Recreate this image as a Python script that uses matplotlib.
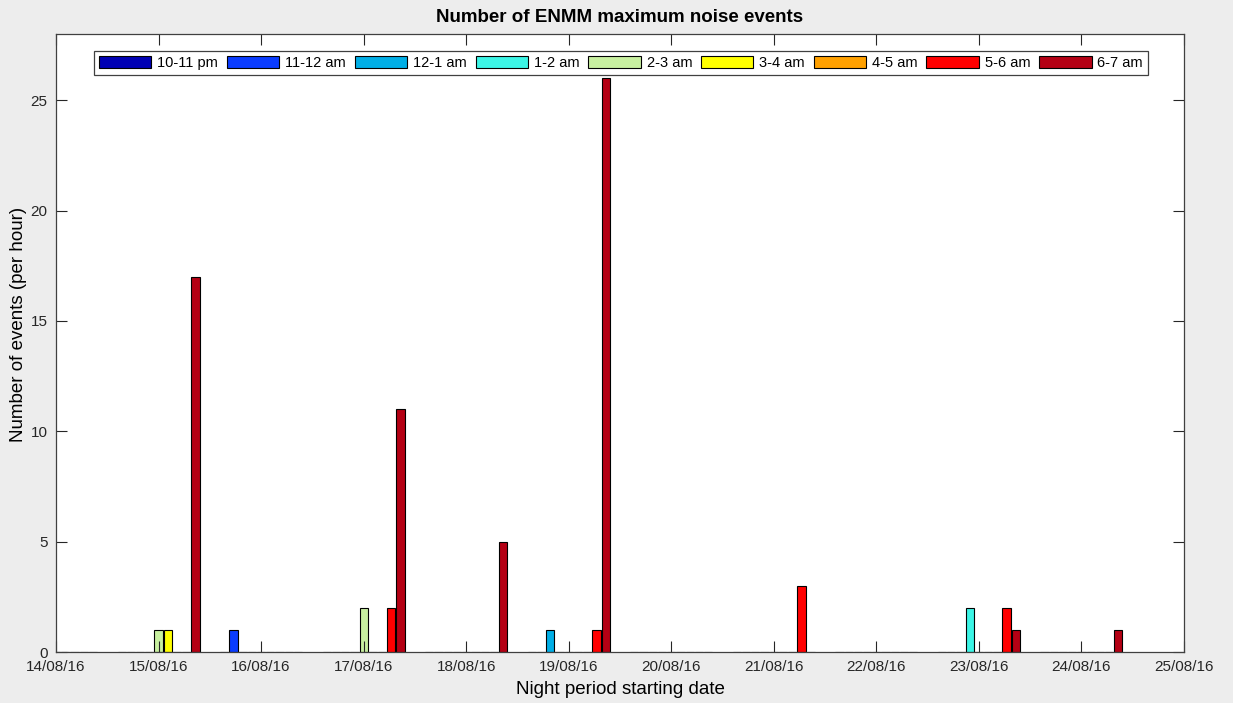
import numpy as np
import matplotlib
matplotlib.use("Agg")
import matplotlib.pyplot as plt

plt.rcParams['font.family'] = ['Liberation Sans', 'DejaVu Sans']

# ---- Data ----
dates = ["14/08/16", "15/08/16", "16/08/16", "17/08/16", "18/08/16", "19/08/16",
         "20/08/16", "21/08/16", "22/08/16", "23/08/16", "24/08/16", "25/08/16"]
hours = ["10-11 pm", "11-12 am", "12-1 am", "1-2 am", "2-3 am",
         "3-4 am", "4-5 am", "5-6 am", "6-7 am"]
colors = ["#0000b4", "#0a3cff", "#00aee6", "#3cf5e6", "#c8f0a0",
          "#ffff00", "#ffa000", "#ff0000", "#b40014"]

# events per night (14/08 .. 24/08), one list per hour
h_10_11pm = [0, 0, 0, 0, 0, 0, 0, 0, 0, 0, 0]
h_11_12am = [0, 0, 1, 0, 0, 0, 0, 0, 0, 0, 0]
h_12_1am  = [0, 0, 0, 0, 0, 1, 0, 0, 0, 0, 0]
h_1_2am   = [0, 0, 0, 0, 0, 0, 0, 0, 0, 2, 0]
h_2_3am   = [0, 1, 0, 2, 0, 0, 0, 0, 0, 0, 0]
h_3_4am   = [0, 1, 0, 0, 0, 0, 0, 0, 0, 0, 0]
h_4_5am   = [0, 0, 0, 0, 0, 0, 0, 0, 0, 0, 0]
h_5_6am   = [0, 0, 0, 2, 0, 1, 0, 3, 0, 2, 0]
h_6_7am   = [0, 17, 0, 11, 5, 26, 0, 0, 0, 1, 1]
counts = [h_10_11pm, h_11_12am, h_12_1am, h_1_2am, h_2_3am,
          h_3_4am, h_4_5am, h_5_6am, h_6_7am]

# ---- Figure ----
fig = plt.figure(figsize=(12.33, 7.03), dpi=100, facecolor="#ededed")
ax = fig.add_axes([56 / 1233, 1 - 652 / 703, 1128 / 1233, 618 / 703])
ax.set_facecolor("white")

x = np.arange(len(counts[0]))
step = 0.09
width = 0.08
for i, (lab, col, vals) in enumerate(zip(hours, colors, counts)):
    ax.bar(x + (i - 4) * step, vals, width=width, color=col,
           edgecolor="black", linewidth=0.8, label=lab)

ax.set_xlim(0, len(dates) - 1)
ax.set_ylim(0, 28)
ax.set_xticks(np.arange(len(dates)))
ax.set_xticklabels(dates)
ax.set_yticks([0, 5, 10, 15, 20, 25])
ax.tick_params(direction="in", length=8, width=0.8, top=True, right=True,
               labelsize=11, colors="#262626", pad=6)
for s in ax.spines.values():
    s.set_color("#404040")
    s.set_linewidth(0.9)

ax.set_title("Number of ENMM maximum noise events", fontsize=13.5,
             fontweight="bold", pad=9)
ax.set_xlabel("Night period starting date", fontsize=13.5, labelpad=5)
ax.set_ylabel("Number of events (per hour)", fontsize=13.5)
ax.yaxis.set_label_coords(-0.026, 0.53)

leg = ax.legend(ncol=9, loc="upper center", bbox_to_anchor=(0.5009, 0.9725),
                borderaxespad=0, fontsize=10.5, handlelength=3.6,
                handleheight=0.9, handletextpad=0.4, columnspacing=0.6,
                borderpad=0.35, fancybox=False, framealpha=1,
                edgecolor="#404040")
leg.get_frame().set_linewidth(0.9)

fig.savefig("out.png", dpi=100, facecolor=fig.get_facecolor())
